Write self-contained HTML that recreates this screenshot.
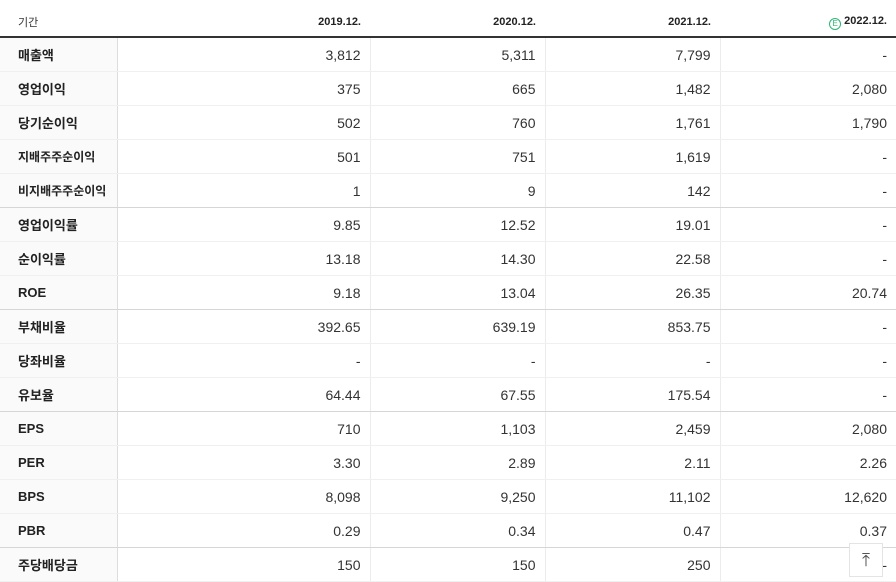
<!DOCTYPE html>
<html><head><meta charset="utf-8"><style>
body{margin:0;width:896px;height:581px;overflow:hidden;background:#fff;font-family:"Liberation Sans","Noto Sans CJK KR",sans-serif;position:relative}
table{border-collapse:collapse;table-layout:fixed;width:896px;position:absolute;left:0;top:0}
th{height:35px;font-size:11px;font-weight:bold;color:#222;text-align:right;padding:8px 9px 0 0;box-sizing:border-box;border-bottom:2px solid #333;vertical-align:middle;white-space:nowrap}
th.lab{text-align:left;padding-left:18px;font-weight:normal;color:#333}
td{height:33px;font-size:14px;color:#333;text-align:right;padding:0 9px 0 0;border-bottom:1px solid #f0f0f0;border-left:1px solid #ececec;vertical-align:middle}
td.lab{text-align:left;padding-left:18px;background:#fafafa;font-weight:bold;font-size:13px;color:#222;border-left:none;border-right:1px solid #ddd}
td.sm{font-size:12px}
tr.g td{border-bottom:1px solid #d6d6d6}
.e{display:inline-block;width:10px;height:10px;border:1px solid #2bb673;border-radius:50%;color:#2bb673;font-size:8px;line-height:10px;text-align:center;vertical-align:-2px;margin-right:3px;font-weight:normal}
.top{position:absolute;left:849px;top:543px;width:34px;height:34px;background:#fff;border:1px solid #e4e4e4;box-sizing:border-box;text-align:center;font-size:18px;line-height:32px;color:#555}
</style></head><body>
<table>
<colgroup><col style="width:117px"><col style="width:253px"><col style="width:175px"><col style="width:175px"><col style="width:176px"></colgroup>
<tr style="height:37px"><th class="lab">기간</th><th>2019.12.</th><th>2020.12.</th><th>2021.12.</th><th><span class="e">E</span>2022.12.</th></tr>
<tr><td class="lab">매출액</td><td>3,812</td><td>5,311</td><td>7,799</td><td>-</td></tr>
<tr><td class="lab">영업이익</td><td>375</td><td>665</td><td>1,482</td><td>2,080</td></tr>
<tr><td class="lab">당기순이익</td><td>502</td><td>760</td><td>1,761</td><td>1,790</td></tr>
<tr><td class="lab sm">지배주주순이익</td><td>501</td><td>751</td><td>1,619</td><td>-</td></tr>
<tr class="g"><td class="lab sm">비지배주주순이익</td><td>1</td><td>9</td><td>142</td><td>-</td></tr>
<tr><td class="lab">영업이익률</td><td>9.85</td><td>12.52</td><td>19.01</td><td>-</td></tr>
<tr><td class="lab">순이익률</td><td>13.18</td><td>14.30</td><td>22.58</td><td>-</td></tr>
<tr class="g"><td class="lab">ROE</td><td>9.18</td><td>13.04</td><td>26.35</td><td>20.74</td></tr>
<tr><td class="lab">부채비율</td><td>392.65</td><td>639.19</td><td>853.75</td><td>-</td></tr>
<tr><td class="lab">당좌비율</td><td>-</td><td>-</td><td>-</td><td>-</td></tr>
<tr class="g"><td class="lab">유보율</td><td>64.44</td><td>67.55</td><td>175.54</td><td>-</td></tr>
<tr><td class="lab">EPS</td><td>710</td><td>1,103</td><td>2,459</td><td>2,080</td></tr>
<tr><td class="lab">PER</td><td>3.30</td><td>2.89</td><td>2.11</td><td>2.26</td></tr>
<tr><td class="lab">BPS</td><td>8,098</td><td>9,250</td><td>11,102</td><td>12,620</td></tr>
<tr class="g"><td class="lab">PBR</td><td>0.29</td><td>0.34</td><td>0.47</td><td>0.37</td></tr>
<tr><td class="lab">주당배당금</td><td>150</td><td>150</td><td>250</td><td>-</td></tr>
</table>
<div class="top">⤒</div>
</body></html>
